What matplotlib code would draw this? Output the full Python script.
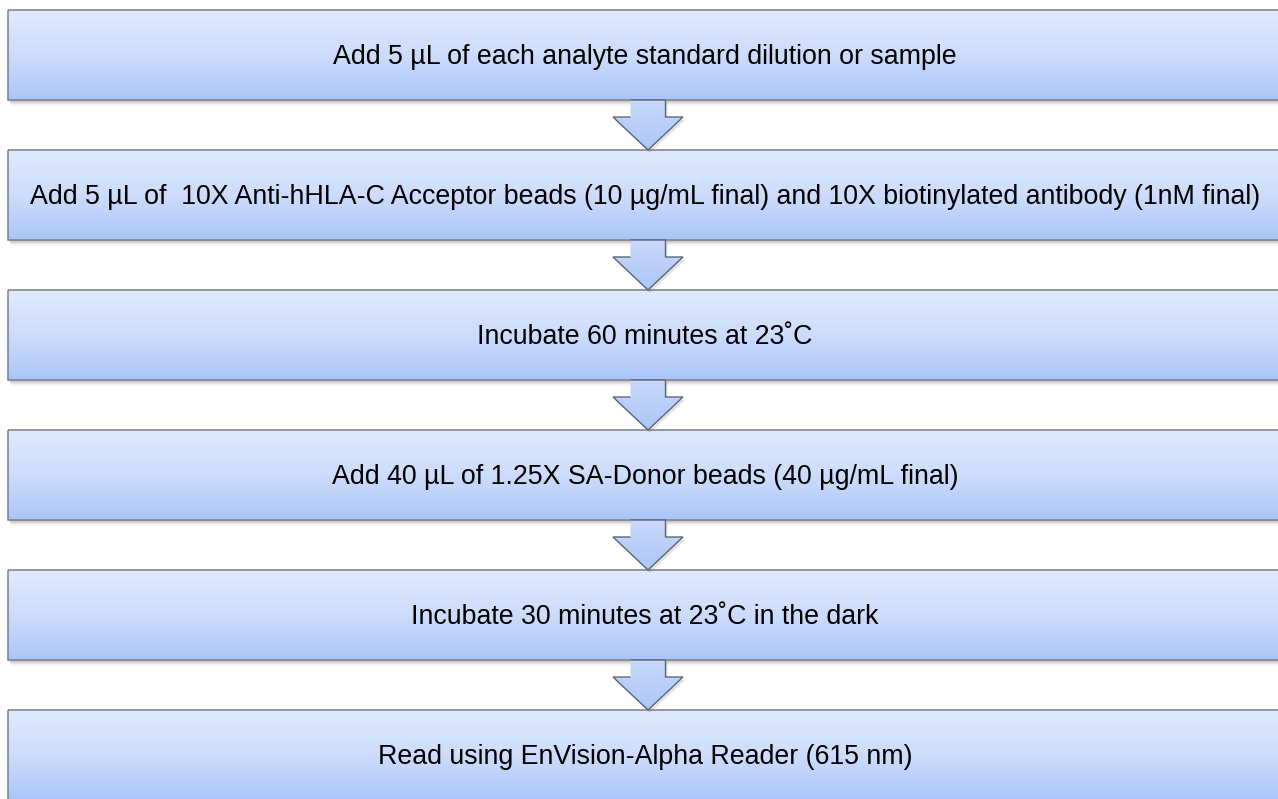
import matplotlib.pyplot as plt
import numpy as np
from matplotlib.patches import Rectangle, Polygon
from matplotlib.colors import LinearSegmentedColormap

# Pasos del protocolo (texto de cada caja)
steps = [
    'Add 5 µL of each analyte standard dilution or sample',
    'Add 5 µL of  10X Anti-hHLA-C Acceptor beads (10 µg/mL final) and 10X biotinylated antibody (1nM final)',
    'Incubate 60 minutes at 23˚C',
    'Add 40 µL of 1.25X SA-Donor beads (40 µg/mL final)',
    'Incubate 30 minutes at 23˚C in the dark',
    'Read using EnVision-Alpha Reader (615 nm)',
]

W, H = 1278, 799
box_x0, box_x1 = 8, 1290
box_top0, box_h, box_step = 10, 90, 140
arrow_cx, shaft_w, head_w, head_h = 648, 35, 70, 33

grad = LinearSegmentedColormap.from_list('g', ['#e0eafd', '#cddcfb', '#aac5f8'])

fig = plt.figure(figsize=(W / 100, H / 100), dpi=100)
ax = fig.add_axes([0, 0, 1, 1])
ax.set_xlim(0, W)
ax.set_ylim(H, 0)
ax.axis('off')

g = np.linspace(0, 1, 256).reshape(-1, 1)


def gradient_fill(patch, y0, y1, z):
    ax.add_patch(patch)
    im = ax.imshow(g, cmap=grad, aspect='auto', extent=(0, W, y1, y0),
                   zorder=z, interpolation='bicubic')
    im.set_clip_path(patch)


for i, txt in enumerate(steps):
    top = box_top0 + i * box_step
    bot = top + box_h
    # sombra
    for k, a in enumerate([0.10, 0.08, 0.06, 0.04, 0.03]):
        ax.add_patch(Rectangle((box_x0 + 1 + k * 0.5, top + 2 + k), box_x1 - box_x0, box_h,
                               facecolor='#404040', edgecolor='none', alpha=a, zorder=1))
    r = Rectangle((box_x0, top), box_x1 - box_x0, box_h, facecolor='none',
                  edgecolor='none', zorder=2)
    gradient_fill(r, top, bot, 2)
    ax.add_patch(Rectangle((box_x0, top), box_x1 - box_x0, box_h, facecolor='none',
                           edgecolor='#7a7f88', lw=1.1, zorder=3))
    ax.text(645, top + box_h / 2 + 2, txt, ha='center', va='center',
            fontsize=19.3, family='Liberation Sans', color='black', zorder=5)

    # flecha hacia la siguiente caja
    if i < len(steps) - 1:
        y0 = bot
        y2 = top + box_step
        y1 = y2 - head_h
        pts = [(arrow_cx - shaft_w / 2, y0), (arrow_cx + shaft_w / 2, y0),
               (arrow_cx + shaft_w / 2, y1), (arrow_cx + head_w / 2, y1),
               (arrow_cx, y2), (arrow_cx - head_w / 2, y1),
               (arrow_cx - shaft_w / 2, y1)]
        sh = [(x + 2, y + 3) for x, y in pts]
        ax.add_patch(Polygon(sh, closed=True, facecolor='#404040', edgecolor='none',
                             alpha=0.15, zorder=3.5))
        p = Polygon(pts, closed=True, facecolor='none', edgecolor='none', zorder=4)
        gradient_fill(p, y0 - 60, y2, 4)
        ax.add_patch(Polygon(pts, closed=False, facecolor='none', edgecolor='#5d6675',
                             lw=1.0, zorder=4.5))

fig.savefig('out.png', dpi=100)
